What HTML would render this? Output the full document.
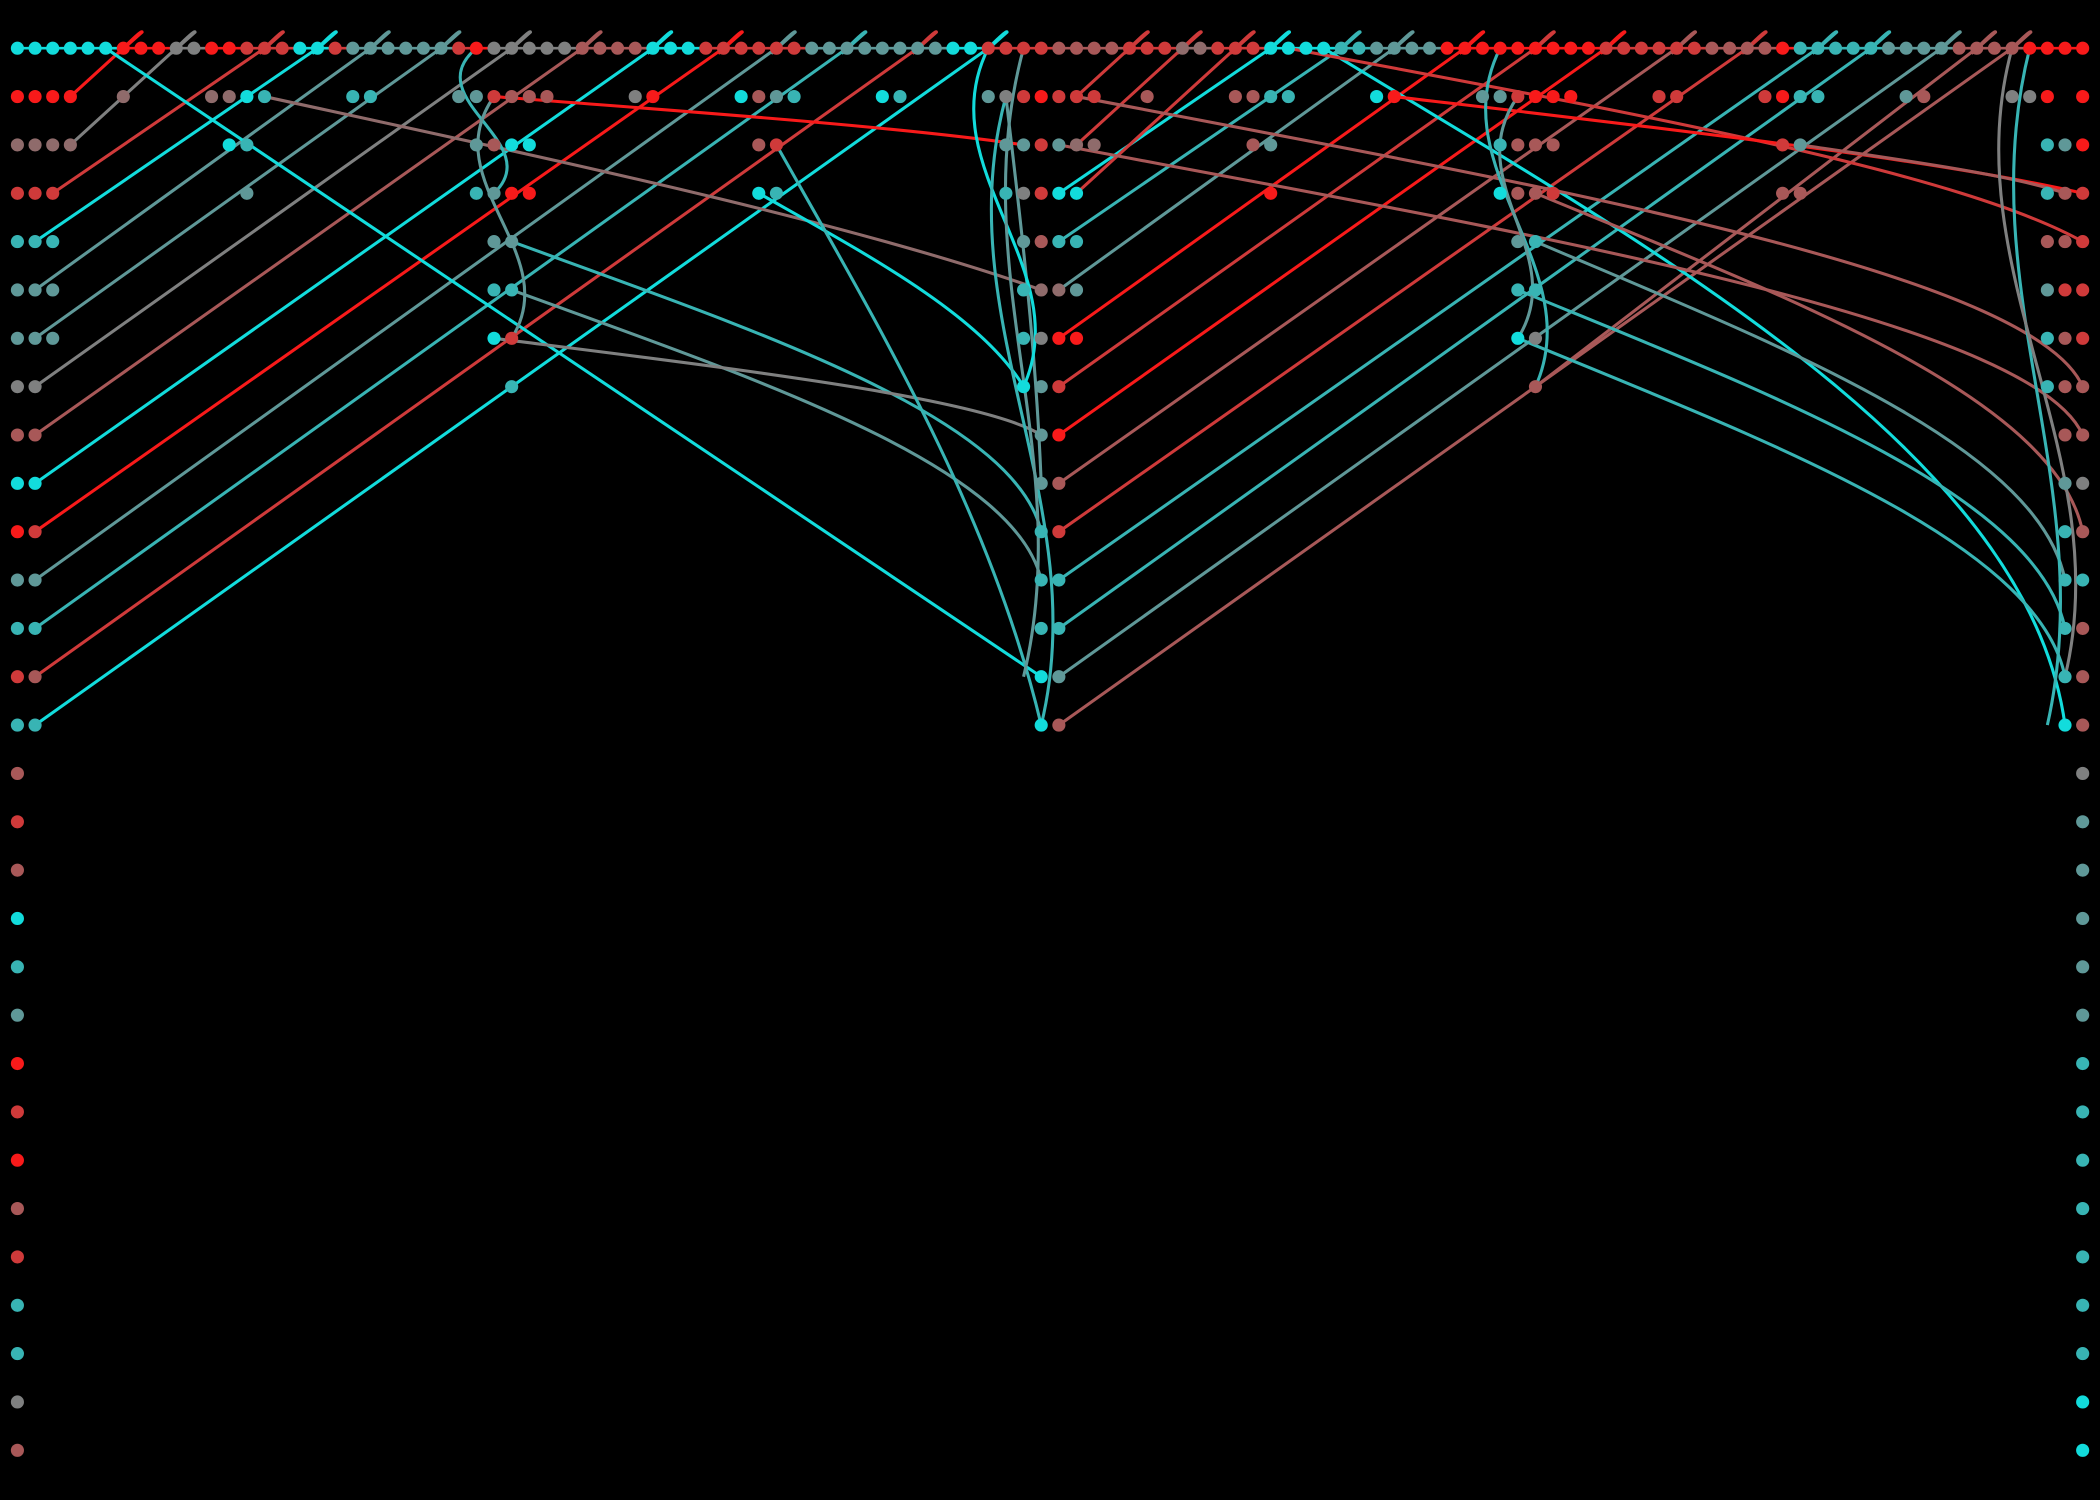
<!DOCTYPE html>
<html><head><meta charset="utf-8">
<style>html,body{margin:0;padding:0;background:#000;}svg{display:block;}</style>
</head><body>
<svg id="chart" width="2100" height="1500" viewBox="0 0 1568 1120" xmlns="http://www.w3.org/2000/svg">
<rect x="0" y="0" width="1568" height="1120" fill="#000"/>
<g id="edges"></g>
<g id="dots"></g>
</svg>
<script>
const palette = {C:"#12dcdc",T:"#38b4b4",S:"#5f9898",G:"#7f8080",R:"#f81a1a",I:"#cf3a3a",B:"#a85858",M:"#8f6b6b"};
const topRowColors = "CCCCCC"+"RRR"+"GG"+"RR"+"III"+"CC"+"I"+"SSSSSS"+"I"+"R"+"GGGGG"+"BBBB"+"CCC"+"IIIIII"+"SSSSSSSS"+"CC"+"IIII"+"BBBB"+"III"+"MM"+"III"+"CCCC"+"TT"+"SSSS"+"RRRRRRRRR"+"IIIIII"+"BBBB"+"R"+"TTTTTSSSS"+"BBBB"+"RRRR";
const rowDots = [
 "",
 "0R 1R 2R 3R 6M 11M 12M 13C 14T 19T 20T 25S 26S 27I 28B 29B 30B 35G 36R 41C 42B 43S 44T 49C 50T 55S 56G 57I 58R 59I 60I 61I 64B 69B 70B 71T 72T 77C 78R 83S 84S 85I 86R 87R 88R 93I 94I 99I 100R 101T 102T 107S 108B 113G 114G 115R 117R",
 "0M 1M 2M 3M 12C 13T 26S 27B 28C 29C 42B 43I 56S 57S 58I 59S 60M 61M 70B 71S 84T 85B 86B 87B 100I 101S 115T 116S 117R",
 "0I 1I 2I 13S 26T 27S 28R 29R 42C 43T 56T 57G 58I 59C 60C 71R 84C 85B 86B 87I 100B 101B 115T 116B 117I",
 "0T 1T 2T 27S 28S 57S 58B 59T 60T 85S 86T 115B 116B 117I",
 "0S 1S 2S 27T 28T 57T 58M 59M 60S 85T 86T 115S 116I 117I",
 "0S 1S 2S 27C 28I 57T 58G 59R 60R 85C 86G 115T 116B 117I",
 "0G 1G 28T 57C 58S 59I 86B 115T 116B 117B",
 "0B 1B 58S 59R 116B 117B",
 "0C 1C 58S 59B 116S 117G",
 "0R 1I 58T 59I 116T 117B",
 "0S 1S 58T 59T 116T 117T",
 "0T 1T 58T 59T 116T 117B",
 "0I 1B 58C 59S 116T 117B",
 "0T 1T 58C 59B 116C 117B"
];
const leftTail = "BIBCTSRIRBITTGB";
const rightTail = "GSSSSSTTTTTTTCC";
// diagonal edges: from (col,row) up to top-row column
const diagFromCol = [2,1,1,1,1,1,1,1,1,1,1,1, 3,3, 59,59,59,59,59,59,59,59,59,59,59,59, 86, 60,60,60];
const diagFromRow = [3,4,5,6,7,8,9,10,11,12,13,14, 1,2, 3,4,5,6,7,8,9,10,11,12,13,14, 7, 1,2,3];
const diagToCol   = [14,17,20,24,28,32,36,40,43,47,51,55, 6,9, 71,75,78,82,86,90,94,98,102,105,109,113, 111, 63,66,69];
const diagColor   = "ICSSGBCRSTIC"+"RG"+"CTSRIRBITTSB"+"B"+"III";
// descending curves (bend 0 = nearly straight)
const curveFromCol = [5,14,27,28,28,27,42,74,85,85,86,86,60,72,78,59,43,56,101];
const curveFromRow = [0,1,1,4,5,6,3,0,6,5,4,3,1,0,1,2,2,1,2];
const curveToCol   = [58,58,57,58,58,58,57,116,116,116,116,117,117,117,117,117,58,58,116];
const curveToRow   = [13,5,2,10,11,8,7,14,13,12,11,10,7,4,3,8,14,9,3];
const curveBend    = [0,0.3,0.4,1,1,0.8,0.6,1,1,1,1,1,1,0.6,0.4,1,0.5,0.6,0.5];
const curveColor   = "CMRTSGCCTTSBBIRBTSB";
// wavy vertical curves
const waveFromCol = [55,56,57,84,85,114,113,26,27];
const waveFromRow = [0,1,0,0,1,0,0,0,1];
const waveToCol   = [57,58,57,86,85,115,116,27,28];
const waveToRow   = [7,14,13,7,6,14,13,3,6];
const waveColor   = "CTSTSTGTS";

const ns="http://www.w3.org/2000/svg";
const xS = c => 13 + c*13.18;
const yS = r => 36 + r*36.1;
const LW = 2.3;
const E=document.getElementById('edges'), D=document.getElementById('dots');
function path(d,col,w,name){
  const p=document.createElementNS(ns,'path');
  p.setAttribute('d',d);p.setAttribute('stroke',col);p.setAttribute('stroke-width',w);p.setAttribute('fill','none');
  
  
  E.appendChild(p);
}
for(let c=0;c<topRowColors.length-1;c++){
  path(`M${xS(c)},${yS(0)}L${xS(c+1)},${yS(0)}`,palette[topRowColors[c]],2,'top-connector');
}
for(let i=0;i<diagFromCol.length;i++){
  const x1=xS(diagFromCol[i]),y1=yS(diagFromRow[i]),x2=xS(diagToCol[i]),y2=yS(0);
  const hx=x2+14,hy=y2-12;
  path(`M${x1},${y1}L${x2},${y2}Q${hx},${hy-2} ${hx},${hy}L${x2-4},${y2+4}`,palette[diagColor[i]],LW,'diagonal-edge');
}
for(let i=0;i<curveFromCol.length;i++){
  const x1=xS(curveFromCol[i]),y1=yS(curveFromRow[i]),x2=xS(curveToCol[i]),y2=yS(curveToRow[i]);
  const dx=x2-x1,dy=y2-y1,b=curveBend[i];
  const c1x=x1+dx*(0.33+0.12*b), c1y=y1+dy*(0.33-0.03*b);
  const c2x=x1+dx*(0.67+0.28*b), c2y=y1+dy*(0.67-0.07*b);
  path(`M${x1},${y1}C${c1x},${c1y} ${c2x},${c2y} ${x2},${y2}`,palette[curveColor[i]],LW,'descending-edge');
}
for(let i=0;i<waveFromCol.length;i++){
  const x1=xS(waveFromCol[i]),y1=yS(waveFromRow[i]),x2=xS(waveToCol[i]),y2=yS(waveToRow[i]);
  const dy=y2-y1;
  path(`M${x1},${y1}C${x1-45},${y1+0.35*dy} ${x2+40},${y1+0.65*dy} ${x2},${y2}`,palette[waveColor[i]],LW,'wave-edge');
}
function dot(c,r,k){
  const e=document.createElementNS(ns,'circle');
  e.setAttribute('cx',xS(c));e.setAttribute('cy',yS(r));e.setAttribute('r',4.9);e.setAttribute('fill',palette[k]);
  
  
  D.appendChild(e);
}
for(let c=0;c<topRowColors.length;c++) dot(c,0,topRowColors[c]);
for(let r=1;r<rowDots.length;r++){
  rowDots[r].split(' ').forEach(t=>{const k=t.slice(-1),c=parseInt(t);dot(c,r,k);});
}
for(let i=0;i<leftTail.length;i++){dot(0,15+i,leftTail[i]);dot(117,15+i,rightTail[i]);}
</script>
</body></html>
